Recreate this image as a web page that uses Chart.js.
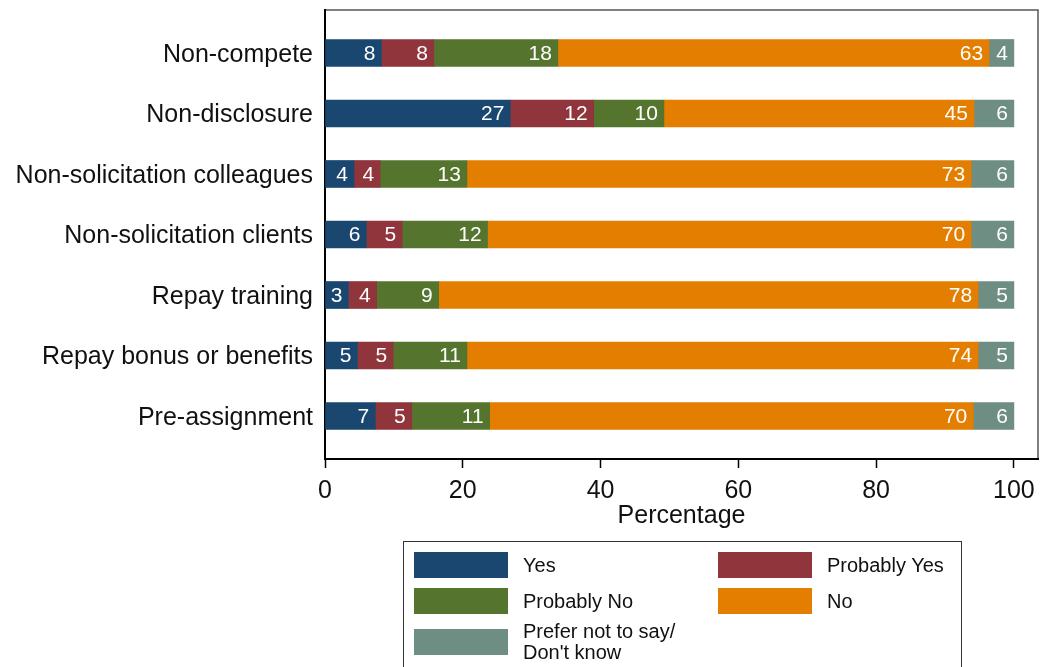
<!DOCTYPE html>
<html>
<head>
<meta charset="utf-8">
<script src="https://cdn.jsdelivr.net/npm/chart.js@4/dist/chart.umd.min.js"></script>
<style>
  body { margin: 0; background: #fff; overflow: hidden; }
  #wrap { position: relative; width: 1041px; height: 667px; }
  #leyenda {
    position: absolute; left: 403px; top: 541px; width: 559px; height: 150px;
    border: 1px solid #333; box-sizing: border-box;
    font-family: "Liberation Sans", Arial, sans-serif; font-size: 20px; color: #111;
  }
  .item { position: absolute; display: flex; align-items: center; }
  .caja { width: 94px; height: 26px; margin-right: 15px; flex: none; }
  .txt { line-height: 21px; }
</style>
</head>
<body>
<div id="wrap">
  <canvas id="grafico"></canvas>
  <div id="leyenda"></div>
</div>
<script>
// Categorías y valores (porcentajes)
const categorias = ['Non-compete', 'Non-disclosure', 'Non-solicitation colleagues', 'Non-solicitation clients', 'Repay training', 'Repay bonus or benefits', 'Pre-assignment'];
const yes = [8.2, 26.9, 4.2, 6.0, 3.4, 4.7, 7.3];
const probYes = [7.6, 12.1, 3.8, 5.2, 4.1, 5.2, 5.3];
const probNo = [18.0, 10.2, 12.6, 12.4, 9.0, 10.7, 11.3];
const no = [62.6, 45.0, 73.2, 70.2, 78.3, 74.2, 70.2];
const noSabe = [3.6, 5.8, 6.2, 6.2, 5.2, 5.2, 5.9];
const ticksX = [0, 20, 40, 60, 80, 100];

const series = [
    { label: 'Yes', data: yes, color: '#1a476f' },
    { label: 'Probably Yes', data: probYes, color: '#90353b' },
    { label: 'Probably No', data: probNo, color: '#55752f' },
    { label: 'No', data: no, color: '#e37e00' },
    { label: 'Prefer not to say/\nDon\'t know', data: noSabe, color: '#6e8e84' }
];

const fuente = 'Liberation Sans';

// Etiquetas blancas dentro de cada segmento
const etiquetasBarras = {
    id: 'etiquetasBarras',
    afterDatasetsDraw(chart) {
        const ctx = chart.ctx;
        ctx.save();
        ctx.fillStyle = '#fff';
        ctx.font = `21px "${fuente}"`;
        ctx.textAlign = 'right';
        ctx.textBaseline = 'middle';
        chart.data.datasets.forEach((ds, i) => {
            chart.getDatasetMeta(i).data.forEach((el, j) => {
                ctx.fillText(Math.round(ds.data[j].x), el.x - 6, el.y + 1);
            });
        });
        ctx.restore();
    }
};

// Marco gris del área del gráfico (arriba y derecha)
const marco = {
    id: 'marco',
    beforeDraw(chart) {
        const a = chart.chartArea;
        const ctx = chart.ctx;
        ctx.save();
        ctx.strokeStyle = '#555';
        ctx.lineWidth = 1.5;
        ctx.strokeRect(a.left, a.top, a.right - a.left, a.bottom - a.top);
        ctx.restore();
    }
};

new Chart(document.getElementById('grafico'), {
    type: 'bar',
    data: {
        datasets: series.map(s => ({
            label: s.label,
            data: s.data.map((v, i) => ({ x: v, y: i })),
            backgroundColor: s.color,
            borderWidth: 0,
            barThickness: 27
        }))
    },
    options: {
        indexAxis: 'y',
        responsive: true,
        maintainAspectRatio: false,
        animation: false,
        layout: { padding: { top: 10, right: 3, bottom: 136, left: 0 } },
        plugins: {
            legend: { display: false },
            tooltip: { enabled: false }
        },
        scales: {
            x: {
                type: 'linear',
                stacked: true,
                min: 0,
                max: 103.5,
                afterBuildTicks: scale => { scale.ticks = ticksX.map(v => ({ value: v })); },
                afterFit: scale => { scale.height = 72; scale.paddingLeft = 0; scale.paddingRight = 0; },
                grid: { display: true, drawOnChartArea: false, tickLength: 9, color: '#000', tickWidth: 1.5 },
                border: { display: true, color: '#000', width: 2 },
                ticks: { color: '#111', padding: 8, font: { family: fuente, size: 25 } },
                title: { display: true, text: 'Percentage', color: '#111', padding: 0, font: { family: fuente, size: 25 } }
            },
            y: {
                type: 'linear',
                stacked: true,
                reverse: true,
                offset: false,
                min: -0.71,
                max: 6.71,
                afterBuildTicks: scale => { scale.ticks = categorias.map((c, i) => ({ value: i })); },
                afterFit: scale => { scale.width = 325; scale.paddingTop = 0; scale.paddingBottom = 0; },
                grid: { display: false, drawTicks: false, offset: false },
                border: { display: true, color: '#000', width: 2 },
                ticks: {
                    autoSkip: false,
                    color: '#111',
                    padding: 12,
                    labelOffset: 2,
                    font: { family: fuente, size: 25 },
                    callback: v => categorias[v]
                }
            }
        }
    },
    plugins: [marco, etiquetasBarras]
});

// Leyenda en HTML con dos columnas
const leyenda = document.getElementById('leyenda');
const posiciones = [[10, 10], [314, 10], [10, 46], [314, 46], [10, 79]];
series.forEach((s, i) => {
    const item = document.createElement('div');
    item.className = 'item';
    item.style.left = posiciones[i][0] + 'px';
    item.style.top = posiciones[i][1] + 'px';
    item.innerHTML = `<div class="caja" style="background:${s.color}"></div><div class="txt">${s.label.replace('\n', '<br>')}</div>`;
    leyenda.appendChild(item);
});
</script>
</body>
</html>
